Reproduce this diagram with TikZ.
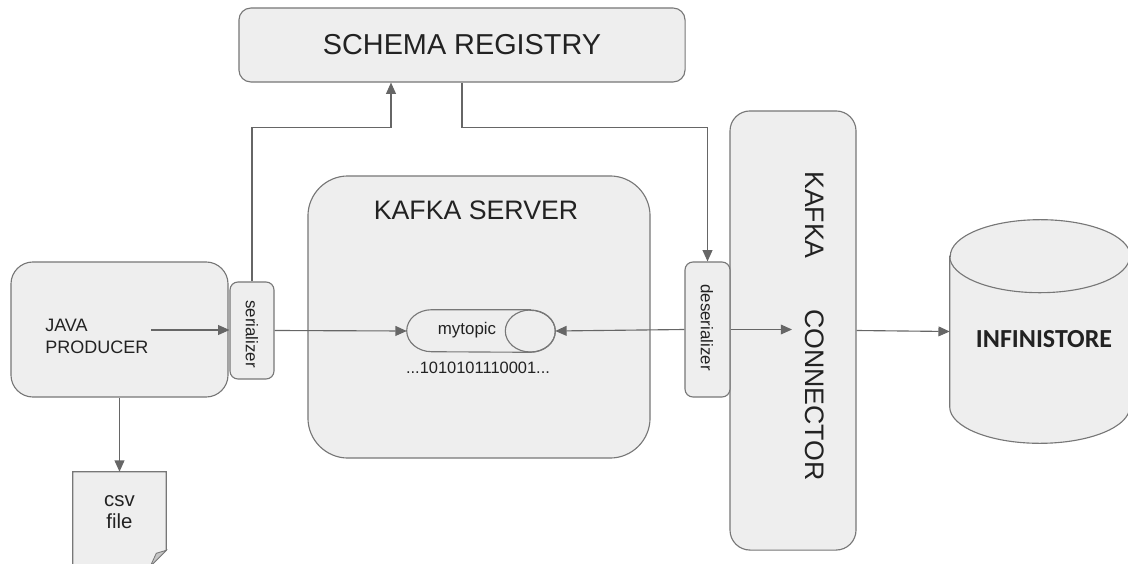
\documentclass[tikz,border=0pt]{standalone}
\usepackage{fontspec}
\setmainfont{Liberation Sans}
\newfontfamily\storefont{Carlito}
\usetikzlibrary{positioning,arrows.meta,calc}
\definecolor{boxfill}{HTML}{EEEEEE}
\definecolor{boxline}{HTML}{777777}
\definecolor{arrowgray}{HTML}{666666}
\definecolor{textgray}{HTML}{222222}

\begin{document}
\begin{tikzpicture}[
  x=0.025cm, y=-0.025cm,
  box/.style={draw=boxline, fill=boxfill, line width=0.8pt},
  plain/.style={draw=none, fill=none, inner sep=0pt},
  arr/.style={draw=arrowgray, line width=0.8pt, -{Triangle[length=8pt, width=7pt]}},
  bigtext/.style={plain, text=textgray, font=\fontsize{19}{22}\selectfont},
  smalltext/.style={plain, text=textgray, font=\fontsize{12}{14}\selectfont}
]
\useasboundingbox (0,0) rectangle (1128,564);

% boxes
\node[box, rounded corners=1cm, minimum width=8.55cm, minimum height=7.05cm] (server) at (479,317) {};
\node[bigtext] (servertxt) at (476,210) {KAFKA SERVER};
\node[box, rounded corners=0.3cm, minimum width=11.15cm, minimum height=1.85cm,
  font=\fontsize{20.5}{24}\selectfont, text=textgray] (registry) at (462,45) {SCHEMA REGISTRY};
\node[box, rounded corners=0.55cm, minimum width=5.425cm, minimum height=3.375cm] (producer) at (119.5,329.5) {};
\node[plain, text=textgray, align=left, anchor=west, font=\fontsize{12.8}{15.5}\selectfont]
  (producertxt) at (45,336) {JAVA\\PRODUCER};
\node[box, rounded corners=0.2cm, minimum width=1.1cm, minimum height=2.425cm] (serializer) at (252,330.5) {};
\node[smalltext, rotate=-90] (serializertxt) at (252,334) {serializer};

\node[box, rounded corners=0.5cm, minimum width=3.15cm, minimum height=10.975cm] (connector) at (793,330.5) {};
\node[bigtext, rotate=-90] (kafkatxt) at (815,215) {KAFKA};
\node[bigtext, rotate=-90] (connectortxt) at (815,395) {CONNECTOR};
\node[box, rounded corners=0.2cm, minimum width=1.125cm, minimum height=3.375cm] (deserializer) at (707.5,329.5) {};
\node[smalltext, rotate=-90] (deserializertxt) at (707,327.5) {deserializer};

% topic
\node[plain, minimum width=3.7cm, minimum height=1.05cm] (topic) at (481,331) {};
\filldraw[box] ($(topic.north east)+(-25,0)$) -- ($(topic.north west)+(25,0)$)
  arc (90:270:0.625cm and 0.525cm) -- ($(topic.south east)+(-25,0)$)
  arc (-90:90:0.625cm and 0.525cm) -- cycle;
\draw[draw=boxline, line width=0.8pt] ($(topic.east)+(-25,0)$) ellipse (0.625cm and 0.525cm);
\node[smalltext] (topictxt) at (467,330) {mytopic};
\node[plain, text=textgray, font=\fontsize{11.7}{14}\selectfont] (bitstxt) at (478,368) {...1010101110001...};

% store
\node[plain, minimum width=4.5cm, minimum height=5.575cm] (store) at (1040,331.5) {};
\filldraw[box] ($(store.north west)+(0,36.5)$) -- ($(store.south west)+(0,-36.5)$)
  arc (180:360:2.25cm and 0.9125cm) -- ($(store.north east)+(0,36.5)$)
  arc (0:180:2.25cm and 0.9125cm) -- cycle;
\draw[draw=boxline, line width=0.8pt] ($(store.north west)+(0,36.5)$) arc (180:360:2.25cm and 0.9125cm);
\node[plain, text=textgray, font=\storefont\bfseries\fontsize{18.5}{20}\selectfont] (storetxt) at (1044,339) {INFINISTORE};

% csv file
\node[plain, minimum width=2.325cm, minimum height=2.35cm] (csv) at (119.5,519) {};
\filldraw[box] (csv.north west) -- (csv.north east) -- ($(csv.south east)+(0,-16)$)
  -- ($(csv.south east)+(-16,0)$) -- (csv.south west) -- cycle;
\filldraw[draw=boxline, fill=gray!45, line width=0.6pt] ($(csv.south east)+(0,-16)$)
  -- ($(csv.south east)+(-16,0)$) -- ($(csv.south east)+(-10,-13)$) -- cycle;
\node[plain, text=textgray, align=center, font=\fontsize{14.5}{15.6}\selectfont] (csvtxt) at (119.5,512.5) {csv\\file};

% connectors
\coordinate (prodout) at (151,330);
\coordinate (regin) at ($(registry.south)+(-71,0)$);
\coordinate (connin) at (792,330);
\draw[arr] (prodout) -- (prodout -| serializer.west);
\draw[arr] (serializer.east) -- (topic.west);
\draw[arr] (serializer.north) |- ($(regin)+(0,45)$) -- (regin);
\draw[arr] (registry.south) -- ++(0,45) -| (deserializer.north);
\draw[arr] (deserializer.west) -- (topic.east);
\draw[arr] (deserializer.east) -- (deserializer.east -| connin);
\draw[arr] (connector.east) -- (store.west);
\draw[arr] (producer.south) -- (csv.north);
\end{tikzpicture}
\end{document}
